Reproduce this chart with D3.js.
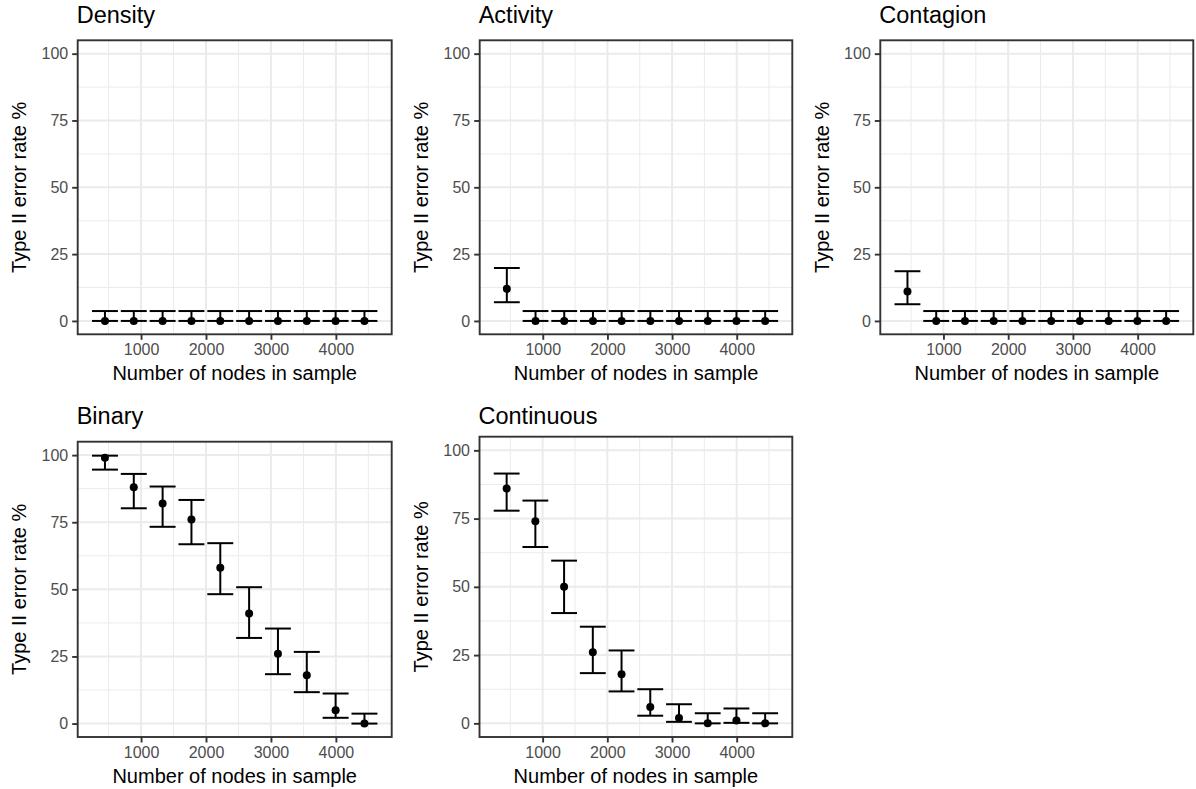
<!DOCTYPE html>
<html>
<head>
<meta charset="utf-8">
<script src="https://cdn.jsdelivr.net/npm/d3@7"></script>
<style>
  body { margin: 0; background: #ffffff; }
  svg { display: block; }
  text { font-family: "Liberation Sans", Arial, Helvetica, sans-serif; }
</style>
</head>
<body>
<script>
// ---------------- DATA ----------------
const panelTitles = ["Density", "Activity", "Contagion", "Binary", "Continuous"];
const sampleSizes = [444, 888, 1332, 1776, 2220, 2664, 3108, 3552, 3996, 4440];
const xTickValues = [1000, 2000, 3000, 4000];
const xMinorValues = [500, 1500, 2500, 3500, 4500];
const yTickValues = [0, 25, 50, 75, 100];
const yMinorValues = [12.5, 37.5, 62.5, 87.5];

const densityRate  = [0, 0, 0, 0, 0, 0, 0, 0, 0, 0];
const densityLower = [0, 0, 0, 0, 0, 0, 0, 0, 0, 0];
const densityUpper = [3.7, 3.7, 3.7, 3.7, 3.7, 3.7, 3.7, 3.7, 3.7, 3.7];

const activityRate  = [12, 0, 0, 0, 0, 0, 0, 0, 0, 0];
const activityLower = [7.0, 0, 0, 0, 0, 0, 0, 0, 0, 0];
const activityUpper = [19.8, 3.7, 3.7, 3.7, 3.7, 3.7, 3.7, 3.7, 3.7, 3.7];

const contagionRate  = [11, 0, 0, 0, 0, 0, 0, 0, 0, 0];
const contagionLower = [6.25, 0, 0, 0, 0, 0, 0, 0, 0, 0];
const contagionUpper = [18.6, 3.7, 3.7, 3.7, 3.7, 3.7, 3.7, 3.7, 3.7, 3.7];

const binaryRate  = [99, 88, 82, 76, 58, 41, 26, 18, 5, 0];
const binaryLower = [94.6, 80.2, 73.3, 66.8, 48.2, 31.9, 18.4, 11.7, 2.15, 0];
const binaryUpper = [99.8, 93.0, 88.3, 83.3, 67.2, 50.8, 35.4, 26.7, 11.2, 3.7];

const continuousRate  = [86, 74, 50, 26, 18, 6, 2, 0, 1, 0];
const continuousLower = [77.9, 64.6, 40.4, 18.4, 11.7, 2.8, 0.55, 0, 0.18, 0];
const continuousUpper = [91.5, 81.6, 59.6, 35.4, 26.7, 12.5, 7.0, 3.7, 5.45, 3.7];

const panelRates  = [densityRate, activityRate, contagionRate, binaryRate, continuousRate];
const panelLowers = [densityLower, activityLower, contagionLower, binaryLower, continuousLower];
const panelUppers = [densityUpper, activityUpper, contagionUpper, binaryUpper, continuousUpper];

const xTitle = "Number of nodes in sample";
const yTitle = "Type II error rate %";

// ---------------- LAYOUT ----------------
const W = 1196, H = 789;
const boxes = [
  { L: 77.7,  R: 391.7,  T: 40.3,  B: 334.3, titleY: 23 },
  { L: 479.7, R: 792.3,  T: 40.3,  B: 334.3, titleY: 23 },
  { L: 880.3, R: 1193.3, T: 40.3,  B: 334.3, titleY: 23 },
  { L: 77.7,  R: 391.7,  T: 441.7, B: 737,   titleY: 424 },
  { L: 479.5, R: 792.3,  T: 436.7, B: 737,   titleY: 424 }
];

const svg = d3.select("body").append("svg").attr("width", W).attr("height", H);
svg.append("rect").attr("width", W).attr("height", H).attr("fill", "#ffffff");

// ggplot-like limits: error-bar extent (0.9 * resolution) plus 5% expansion
const step = sampleSizes[1] - sampleSizes[0];
const barW = 0.9 * step;
const xlo = d3.min(sampleSizes) - barW / 2, xhi = d3.max(sampleSizes) + barW / 2;
const xpad = (xhi - xlo) * 0.05;
const xDomain = [xlo - xpad, xhi + xpad];
const ylo = 0, yhi = 100;
const ypad = (yhi - ylo) * 0.05;
const yDomain = [ylo - ypad, yhi + ypad];

panelTitles.forEach((title, i) => {
  const b = boxes[i];
  const x = d3.scaleLinear().domain(xDomain).range([b.L, b.R]);
  const y = d3.scaleLinear().domain(yDomain).range([b.B, b.T]);
  const g = svg.append("g");

  g.append("rect").attr("x", b.L).attr("y", b.T).attr("width", b.R - b.L).attr("height", b.B - b.T).attr("fill", "#ffffff");

  // minor grid
  g.selectAll(".vminor").data(xMinorValues).enter().append("line")
    .attr("x1", d => x(d)).attr("x2", d => x(d)).attr("y1", b.T).attr("y2", b.B)
    .attr("stroke", "#EBEBEB").attr("stroke-width", 1);
  g.selectAll(".hminor").data(yMinorValues).enter().append("line")
    .attr("y1", d => y(d)).attr("y2", d => y(d)).attr("x1", b.L).attr("x2", b.R)
    .attr("stroke", "#EBEBEB").attr("stroke-width", 1);
  // major grid
  g.selectAll(".vmajor").data(xTickValues).enter().append("line")
    .attr("x1", d => x(d)).attr("x2", d => x(d)).attr("y1", b.T).attr("y2", b.B)
    .attr("stroke", "#EBEBEB").attr("stroke-width", 2);
  g.selectAll(".hmajor").data(yTickValues).enter().append("line")
    .attr("y1", d => y(d)).attr("y2", d => y(d)).attr("x1", b.L).attr("x2", b.R)
    .attr("stroke", "#EBEBEB").attr("stroke-width", 2);

  const rates = panelRates[i], lows = panelLowers[i], ups = panelUppers[i];
  const pts = sampleSizes.map((s, k) => ({ s, r: rates[k], lo: lows[k], hi: ups[k] }));

  // error bars
  const eb = g.append("g").attr("stroke", "#000").attr("stroke-width", 2).attr("fill", "none");
  pts.forEach(p => {
    eb.append("line").attr("x1", x(p.s)).attr("x2", x(p.s)).attr("y1", y(p.lo)).attr("y2", y(p.hi));
    eb.append("line").attr("x1", x(p.s - barW / 2)).attr("x2", x(p.s + barW / 2)).attr("y1", y(p.lo)).attr("y2", y(p.lo));
    eb.append("line").attr("x1", x(p.s - barW / 2)).attr("x2", x(p.s + barW / 2)).attr("y1", y(p.hi)).attr("y2", y(p.hi));
  });
  // points
  g.selectAll(".pt").data(pts).enter().append("circle")
    .attr("cx", d => x(d.s)).attr("cy", d => y(d.r)).attr("r", 4).attr("fill", "#000");

  // border
  g.append("rect").attr("x", b.L).attr("y", b.T).attr("width", b.R - b.L).attr("height", b.B - b.T)
    .attr("fill", "none").attr("stroke", "#333333").attr("stroke-width", 1.9);

  // axes
  const ax = g.append("g").attr("transform", `translate(0,${b.B})`)
    .call(d3.axisBottom(x).tickValues(xTickValues).tickFormat(d3.format("d")).tickSize(5.5).tickPadding(4));
  const ay = g.append("g").attr("transform", `translate(${b.L},0)`)
    .call(d3.axisLeft(y).tickValues(yTickValues).tickFormat(d3.format("d")).tickSize(5.5).tickPadding(4));
  [ax, ay].forEach(a => {
    a.select(".domain").remove();
    a.selectAll(".tick line").attr("stroke", "#333333").attr("stroke-width", 1.9);
    a.selectAll(".tick text").attr("fill", "#4D4D4D").style("font-size", "16px")
      .style("font-family", "'Liberation Sans', Arial, sans-serif");
  });

  // titles
  g.append("text").attr("x", b.L - 1).attr("y", b.titleY).text(title)
    .attr("fill", "#000").style("font-size", "23.5px");
  g.append("text").attr("x", (b.L + b.R) / 2).attr("y", b.B + 45.5).attr("text-anchor", "middle")
    .text(xTitle).attr("fill", "#000").style("font-size", "20px");
  g.append("text").attr("transform", `translate(${b.L - 51.5},${(b.T + b.B) / 2}) rotate(-90)`)
    .attr("text-anchor", "middle").text(yTitle).attr("fill", "#000").style("font-size", "20px");
});
</script>
</body>
</html>
